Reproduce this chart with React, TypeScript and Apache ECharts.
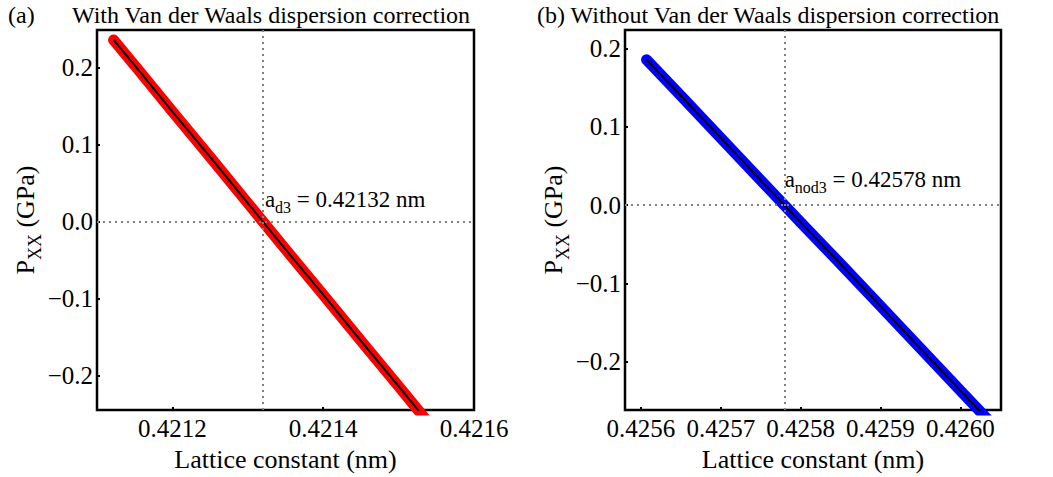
import React, { useEffect, useRef } from "react";
import * as echarts from "echarts";

// Panel (a): with Van der Waals dispersion correction
const latticeA = [0.421122, 0.42115, 0.4212, 0.42125, 0.4213, 0.42135, 0.4214, 0.42145, 0.4215, 0.421535];
const pressureA = [0.236, 0.203, 0.143, 0.084, 0.024, -0.036, -0.095, -0.155, -0.214, -0.256];
// Panel (b): without Van der Waals dispersion correction
const latticeB = [0.425607, 0.42565, 0.4257, 0.42575, 0.4258, 0.42585, 0.4259, 0.42595, 0.426, 0.42604];
const pressureB = [0.186, 0.140, 0.086, 0.032, -0.022, -0.075, -0.129, -0.183, -0.237, -0.280];

const equilibriumA = 0.42132;
const equilibriumB = 0.42578;

const xRangeA = [0.4211, 0.4216];
const xRangeB = [0.42558, 0.426051];
const yRangeA = [-0.245, 0.249];
const yRangeB = [-0.262, 0.224];

const titleA = "With Van der Waals dispersion correction";
const titleB = "(b) Without Van der Waals dispersion correction";
const xName = "Lattice constant (nm)";

const FONT = "Liberation Serif";

const tick = { show: true, inside: true, length: 3, lineStyle: { color: "#000", width: 2 } };

const mkX = (gi: number, range: number[], split: number, showMax: boolean) => ({
  type: "value",
  gridIndex: gi,
  min: range[0],
  max: range[1],
  splitNumber: split,
  axisLine: { show: false, onZero: false },
  axisTick: tick,
  axisLabel: {
    fontSize: 25,
    fontFamily: FONT,
    color: "#000",
    margin: 6,
    showMinLabel: false,
    showMaxLabel: showMax,
    formatter: (v: number) => v.toFixed(4),
  },
  splitLine: { show: false },
  name: xName,
  nameLocation: "middle",
  nameGap: 27,
  nameTextStyle: { fontSize: 26, fontFamily: FONT, color: "#000" },
});

const mkY = (gi: number, range: number[], gap: number) => ({
  type: "value",
  gridIndex: gi,
  min: range[0],
  max: range[1],
  splitNumber: 5,
  axisLine: { show: false, onZero: false },
  axisTick: tick,
  axisLabel: {
    fontSize: 25,
    fontFamily: FONT,
    color: "#000",
    margin: 4,
    showMinLabel: false,
    showMaxLabel: false,
    formatter: (v: number) => (v < -1e-9 ? "\u2212" : "") + Math.abs(v).toFixed(1),
  },
  splitLine: { show: false },
  name: "{m|P}{s|XX}{m| (GPa)}",
  nameLocation: "middle",
  nameRotate: 90,
  nameGap: gap,
  nameTextStyle: {
    fontFamily: FONT,
    color: "#000",
    rich: {
      m: { fontSize: 26, fontFamily: FONT, color: "#000", lineHeight: 32 },
      s: { fontSize: 18, fontFamily: FONT, color: "#000", lineHeight: 18, padding: [16, 0, 0, 0], verticalAlign: "top" },
    },
  },
});

const annotRich = {
  m: { fontSize: 23, fontFamily: FONT, color: "#000", opacity: 1, lineHeight: 30 },
  s: { fontSize: 16, fontFamily: FONT, color: "#000", opacity: 1, lineHeight: 16, padding: [15, 0, 0, 0], verticalAlign: "top" },
};

const dotted = { color: "#808080", width: 2, type: [2, 4], opacity: 1 };

export default function App() {
  const ref = useRef<HTMLDivElement>(null);
  useEffect(() => {
    if (!ref.current) return;
    const chart = echarts.init(ref.current, null, { renderer: "svg" });
    const pairs = (xs: number[], ys: number[]) => xs.map((x, i) => [x, ys[i]]);
    const marker = (gi: number, eq: number, sub: string, pos: number[]) => ({
      type: "scatter", xAxisIndex: gi, yAxisIndex: gi, data: [[eq, 0]], symbolSize: 0, z: 6,
      itemStyle: { color: "#000", opacity: 1 },
      emphasis: { disabled: true },
      label: {
        show: true, position: pos, align: "left", verticalAlign: "bottom", color: "#000", opacity: 1,
        formatter: "{m|a}{s|" + sub + "}{m| = " + eq.toFixed(5) + " nm}", rich: annotRich,
      },
      markLine: {
        silent: true, symbol: ["none", "none"], precision: 6, label: { show: false }, lineStyle: dotted, z: 5,
        emphasis: { disabled: true },
        data: [{ xAxis: eq }, { yAxis: 0 }],
      },
    });
    const option: any = {
      animation: false,
      textStyle: { fontFamily: FONT, color: "#000" },
      grid: [
        { left: 97, top: 30, width: 377, height: 383, show: true, borderColor: "#000", borderWidth: 2.5, backgroundColor: "transparent" },
        { left: 625, top: 30, width: 376, height: 384, show: true, borderColor: "#000", borderWidth: 2.5, backgroundColor: "transparent" },
      ],
      xAxis: [mkX(0, xRangeA, 3, true), mkX(1, xRangeB, 5, false)],
      yAxis: [mkY(0, yRangeA, 48), mkY(1, yRangeB, 51)],
      graphic: [
        { type: "text", left: 8, top: 3, style: { text: "(a)", fontSize: 24, fontFamily: FONT, fill: "#000" } },
        { type: "text", left: 72, top: 3, style: { text: titleA, fontSize: 24, fontFamily: FONT, fill: "#000" } },
        { type: "text", left: 537, top: 3, style: { text: titleB, fontSize: 24, fontFamily: FONT, fill: "#000" } },
      ],
      series: [
        {
          type: "line", xAxisIndex: 0, yAxisIndex: 0, data: pairs(latticeA, pressureA), showSymbol: false,
          lineStyle: { color: "#ff0000", width: 11, cap: "round" }, z: 2, clip: true,
        },
        {
          type: "line", xAxisIndex: 0, yAxisIndex: 0, data: pairs(latticeA, pressureA), showSymbol: false,
          lineStyle: { color: "#000", width: 2 }, z: 3, clip: true,
        },
        {
          type: "line", xAxisIndex: 1, yAxisIndex: 1, data: pairs(latticeB, pressureB), showSymbol: false,
          lineStyle: { color: "#0000ff", width: 11, cap: "round" }, z: 2, clip: true,
        },
        {
          type: "line", xAxisIndex: 1, yAxisIndex: 1, data: pairs(latticeB, pressureB), showSymbol: false,
          lineStyle: { color: "#000", width: 2 }, z: 3, clip: true,
        },
        marker(0, equilibriumA, "d3", [2, -7]),
        marker(1, equilibriumB, "nod3", [0, -11]),
      ],
    };
    chart.setOption(option);
    return () => chart.dispose();
  }, []);
  return (
    <div
      ref={ref}
      style={{ position: "fixed", left: 0, top: 0, width: 1053, height: 477, background: "#fff" }}
    />
  );
}
